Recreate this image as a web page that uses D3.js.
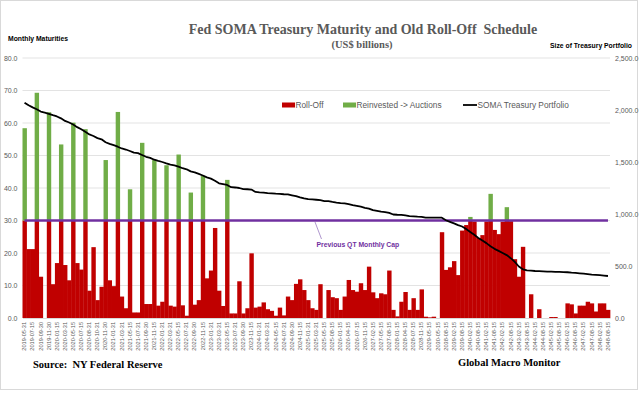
<!DOCTYPE html>
<html>
<head>
<meta charset="utf-8">
<script src="https://cdn.jsdelivr.net/npm/d3@7"></script>
<style>
  body { margin: 0; background: #fff; }
  text { font-family: "Liberation Sans", Arial, sans-serif; white-space: pre; }
  .serif { font-family: "Liberation Serif", "Times New Roman", serif; font-weight: bold; }
</style>
</head>
<body>
<div id="chart"></div>
<script>
// maturity dates (categories)
const dates = [
  "2019-05-31","2019-06-30","2019-07-15","2019-08-15","2019-09-30","2019-10-31","2019-11-30","2019-12-31","2020-01-15","2020-02-15",
  "2020-03-31","2020-04-30","2020-05-15","2020-06-30","2020-07-15","2020-08-15","2020-08-31","2020-09-30","2020-10-31","2020-11-15",
  "2020-11-30","2020-12-31","2021-01-31","2021-02-15","2021-03-31","2021-04-15","2021-05-15","2021-06-30","2021-07-31","2021-08-15",
  "2021-09-30","2021-10-31","2021-11-15","2021-12-31","2022-01-31","2022-02-15","2022-03-31","2022-04-15","2022-05-15","2022-06-30",
  "2022-07-31","2022-08-15","2022-09-30","2022-10-31","2022-11-15","2022-12-31","2023-01-31","2023-02-15","2023-03-31","2023-04-15",
  "2023-05-15","2023-06-30","2023-07-31","2023-08-15","2023-09-30","2023-10-31","2023-11-15","2023-12-31","2024-01-31","2024-02-15",
  "2024-03-31","2024-04-15","2024-05-15","2024-06-30","2024-07-31","2024-08-15","2024-09-30","2024-10-31","2024-11-15","2024-12-31",
  "2025-01-31","2025-02-15","2025-03-31","2025-04-15","2025-05-15","2025-07-15","2025-08-15","2025-11-15","2026-01-15","2026-02-15",
  "2026-04-15","2026-05-15","2026-07-15","2026-08-15","2026-11-15","2027-01-15","2027-02-15","2027-04-15","2027-05-15","2027-07-15",
  "2027-08-15","2027-11-15","2028-01-15","2028-02-15","2028-04-15","2028-05-15","2028-07-15","2028-08-15","2028-11-15","2029-02-15",
  "2029-05-15","2029-08-15","2030-05-15","2038-05-15","2038-08-15","2038-11-15","2039-02-15","2039-05-15","2039-08-15","2039-11-15",
  "2040-02-15","2040-05-15","2040-08-15","2040-11-15","2041-02-15","2041-05-15","2041-08-15","2041-11-15","2042-02-15","2042-05-15",
  "2042-08-15","2042-11-15","2043-02-15","2043-05-15","2043-08-15","2043-11-15","2044-02-15","2044-05-15","2044-08-15","2044-11-15",
  "2045-02-15","2045-05-15","2045-08-15","2045-11-15","2046-02-15","2046-05-15","2046-08-15","2046-11-15","2047-02-15","2047-05-15",
  "2047-08-15","2047-11-15","2048-02-15","2048-05-15","2048-08-15"
];

// Roll-Off (capped at 30)
const rollOff = [
  30,21.2,21.2,30,12.7,0,30,10.4,16.9,30,
  16.3,11.6,30,16.9,14.9,30,8.4,21.8,5.5,9.6,
  30,11.6,9.8,30,6.6,3.0,30,1.7,1.7,30,
  4.3,4.3,30,3.8,5.0,30,3.8,3.5,30,3.9,
  0.7,30,4.1,5.5,30,12.2,14.6,27.7,8.4,3.7,
  30,1.4,1.4,11.3,1.4,3.0,19.9,3.2,3.5,4.8,
  2.7,2.2,0.7,3.2,0.8,6.6,5.5,10.5,11.9,8.6,
  5.5,3.0,2.5,10.4,0,8.6,6.4,6.1,2.5,6.6,
  11.7,8.6,8.1,10.7,8.6,15.8,7.9,6.1,7.6,7.3,
  14.6,2.5,0.5,5.0,8.0,2.5,6.1,2.5,8.8,0.4,
  0.2,0.4,0,26.4,14.8,15.6,17.5,13.2,26.9,28.6,
  30,29.7,24.6,25.5,29.7,30,27.1,25.8,29.6,30,
  29.8,18.1,12.7,21.9,0,7.3,0,2.7,0,0,
  0.3,0.3,0,0,4.5,4.2,1.4,3.8,3.8,5.0,
  4.5,2.0,4.5,4.5,2.5
];

// Reinvested -> Auctions (above the cap)
const reinvested = [
  28.4,0,0,39.3,0,0,33.3,0,0,23.4,
  0,0,30.1,0,0,28.1,0,0,0,0,
  18.6,0,0,33.4,0,0,9.6,0,0,23.9,
  0,0,18.6,0,0,17.0,0,0,20.3,0,
  0,8.6,0,0,13.8,0,0,0,0,0,
  12.5,0,0,0,0,0,0,0,0,0,
  0,0,0,0,0,0,0,0,0,0,
  0,0,0,0,0,0,0,0,0,0,
  0,0,0,0,0,0,0,0,0,0,
  0,0,0,0,0,0,0,0,0,0,
  0,0,0,0,0,0,0,0,0,0,
  1.1,0,0,0,0,8.2,0,0,0,4.1,
  0,0,0,0,0,0,0,0,0,0,
  0,0,0,0,0,0,0,0,0,0,
  0,0,0,0,0
];

// SOMA Treasury Portfolio (right axis)
const portfolio = [
  2070,2045,2025,2007,1985,1975,1963,1950,1938,1920,
  1895,1880,1860,1835,1815,1790,1765,1750,1730,1718,
  1690,1675,1662,1647,1630,1620,1606,1590,1585,1567,
  1550,1540,1522,1510,1500,1487,1475,1468,1455,1440,
  1430,1410,1400,1385,1370,1352,1340,1320,1295,1287,
  1279,1258,1255,1250,1240,1238,1235,1212,1208,1205,
  1200,1198,1195,1193,1190,1188,1180,1172,1160,1150,
  1143,1140,1137,1133,1124,1124,1116,1110,1105,1103,
  1096,1085,1078,1070,1060,1052,1037,1030,1022,1018,
  1010,995,993,992,987,980,978,975,973,966,
  966,966,965,965,940,925,910,893,880,855,
  828,800,770,745,720,690,665,645,625,605,
  575,540,495,468,458,455,452,450,448,446,
  445,444,443,442,440,436,433,430,426,422,
  418,415,412,408,404
];

const qtCap = 30;
const leftTicks = [0, 10, 20, 30, 40, 50, 60, 70, 80];
const rightTicks = [0, 500, 1000, 1500, 2000, 2500];

const W = 640, H = 393;
const red = "#C00000", green = "#70AD47", purple = "#7030A0", grey = "#595959";

const svg = d3.select("#chart").append("svg")
    .attr("width", W)
    .attr("height", H);

svg.append("rect")
    .attr("x", 0.5).attr("y", 0.5)
    .attr("width", W - 3).attr("height", H - 4)
    .attr("fill", "#fff")
    .attr("stroke", "#d9d9d9");

const x = d3.scaleBand().domain(dates).range([22.5, 610]).padding(0);
const y = d3.scaleLinear().domain([0, 80]).range([318, 58]);
const yR = d3.scaleLinear().domain([0, 2500]).range([318, 58]);

// gridlines
svg.append("g").selectAll("line")
    .data(leftTicks.slice(1))
    .enter().append("line")
    .attr("x1", 22.5).attr("x2", 610)
    .attr("y1", d => y(d)).attr("y2", d => y(d))
    .attr("stroke", "#e3e3e3").attr("stroke-width", 1);

// axes
const axL = svg.append("g")
    .attr("transform", "translate(22.5,0)")
    .call(d3.axisLeft(y).tickValues(leftTicks).tickFormat(d3.format(".1f")).tickSize(0).tickPadding(5));
const axR = svg.append("g")
    .attr("transform", "translate(610,0)")
    .call(d3.axisRight(yR).tickValues(rightTicks).tickFormat(d3.format(",.1f")).tickSize(0).tickPadding(5));
[axL, axR].forEach(a => {
    a.select(".domain").remove();
    a.selectAll("text").attr("fill", grey).style("font-size", "7px")
        .style("font-family", "'Liberation Sans', Arial, sans-serif");
});

const axB = svg.append("g")
    .attr("transform", "translate(0,318)")
    .call(d3.axisBottom(x).tickValues(dates.filter((d, i) => i % 2 === 0)).tickSize(0).tickPadding(0));
axB.select(".domain").attr("stroke", "#d9d9d9");
axB.selectAll("text")
    .attr("fill", grey)
    .style("font-size", "5.6px")
    .style("font-family", "'Liberation Sans', Arial, sans-serif")
    .attr("text-anchor", "end")
    .attr("transform", "translate(0,4) rotate(-90)")
    .attr("dx", 0).attr("dy", "0.32em").attr("x", 0).attr("y", 0);

// stacked bars
const table = dates.map((d, i) => ({ date: d, roll: rollOff[i], reinv: reinvested[i] }));
const stacked = d3.stack().keys(["roll", "reinv"])(table);
const colors = { roll: red, reinv: green };
const bw = x.bandwidth();

svg.append("g").selectAll("g")
    .data(stacked)
    .enter().append("g")
    .attr("fill", s => colors[s.key])
    .selectAll("rect")
    .data(s => s)
    .enter().append("rect")
    .attr("x", d => x(d.data.date))
    .attr("y", d => y(d[1]))
    .attr("width", bw + 0.35)
    .attr("height", d => Math.max(0, y(d[0]) - y(d[1])));

// QT cap line
svg.append("path")
    .datum(dates)
    .attr("fill", "none")
    .attr("stroke", purple)
    .attr("stroke-width", 2.5)
    .attr("d", d3.line().x(d => x(d) + bw / 2).y(() => y(qtCap)));

// portfolio line
svg.append("path")
    .datum(portfolio)
    .attr("fill", "none")
    .attr("stroke", "#000")
    .attr("stroke-width", 1.8)
    .attr("stroke-linejoin", "round")
    .attr("d", d3.line().x((d, i) => x(dates[i]) + bw / 2).y(d => yR(d)));

// cap annotation
svg.append("line")
    .attr("x1", 315).attr("y1", y(qtCap) + 1.5)
    .attr("x2", 321.5).attr("y2", 239)
    .attr("stroke", "#9a7cc0").attr("stroke-width", 0.8);
svg.append("text")
    .attr("x", 316.5).attr("y", 247)
    .attr("fill", purple)
    .style("font-size", "6.8px").style("font-weight", "bold")
    .text("Previous QT Monthly Cap");

// legend
const lg = svg.append("g").style("font-size", "8.3px");
lg.append("rect").attr("x", 282).attr("y", 102.5).attr("width", 13).attr("height", 5).attr("fill", red);
lg.append("text").attr("x", 295.5).attr("y", 108).attr("fill", grey).text("Roll-Off");
lg.append("rect").attr("x", 343).attr("y", 102.5).attr("width", 13).attr("height", 5).attr("fill", green);
lg.append("text").attr("x", 356.5).attr("y", 108).attr("fill", grey).text("Reinvested -> Auctions");
lg.append("line").attr("x1", 463).attr("x2", 477).attr("y1", 105).attr("y2", 105).attr("stroke", "#000").attr("stroke-width", 1.8);
lg.append("text").attr("x", 477.5).attr("y", 108).attr("fill", grey).text("SOMA Treasury Portfolio");

// titles
svg.append("text").attr("class", "serif")
    .attr("x", 363).attr("y", 34).attr("text-anchor", "middle")
    .attr("fill", grey).style("font-size", "14px")
    .text("Fed SOMA Treasury Maturity and Old Roll-Off  Schedule");
svg.append("text").attr("class", "serif")
    .attr("x", 362).attr("y", 47.5).attr("text-anchor", "middle")
    .attr("fill", grey).style("font-size", "10.5px")
    .text("(US$ billions)");
svg.append("text")
    .attr("x", 8).attr("y", 41)
    .attr("fill", "#000").style("font-size", "6.8px").style("font-weight", "bold")
    .text("Monthly Maturities");
svg.append("text")
    .attr("x", 632).attr("y", 48).attr("text-anchor", "end")
    .attr("fill", "#000").style("font-size", "6.8px").style("font-weight", "bold")
    .text("Size of Treasury Portfolio");
svg.append("text").attr("class", "serif")
    .attr("x", 33).attr("y", 368)
    .attr("fill", "#000").style("font-size", "10.5px")
    .text("Source:  NY Federal Reserve");
svg.append("text").attr("class", "serif")
    .attr("x", 458).attr("y", 366)
    .attr("fill", "#000").style("font-size", "10.5px")
    .text("Global Macro Monitor");
</script>
</body>
</html>
